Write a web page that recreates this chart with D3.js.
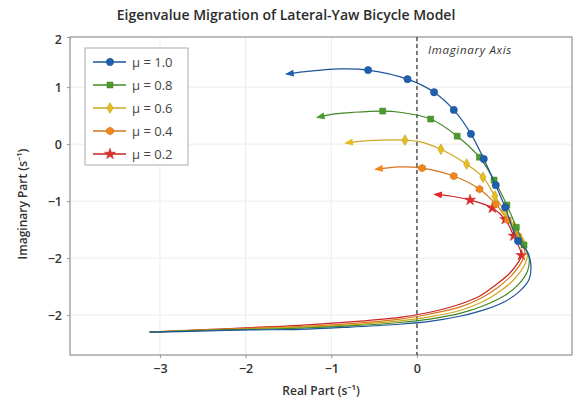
<!DOCTYPE html>
<html>
<head>
<meta charset="utf-8">
<script src="https://cdn.jsdelivr.net/npm/d3@7"></script>
<style>
  body { margin: 0; background: #fff; }
  svg { display: block; font-family: "Open Sans", "Noto Sans", sans-serif; }
</style>
</head>
<body>
<svg id="chart"></svg>
<script>
// Series labels / colours
const seriesLabels = ["\u03bc = 1.0", "\u03bc = 0.8", "\u03bc = 0.6", "\u03bc = 0.4", "\u03bc = 0.2"];
const seriesColors = ["#1f5fad", "#4b9a2c", "#e8bd22", "#f0861c", "#e22a2a"];

// Loci (real, imaginary); markers are indices into each path
const mu10Re = [-3.12, -2.54, -1.95, -1.37, -0.78, -0.20, 0.15, 0.50, 0.80, 1.03, 1.20, 1.31, 1.33, 1.29, 1.18, 1.03, 0.92, 0.78, 0.63, 0.43, 0.20, -0.11, -0.57, -0.90, -1.25, -1.52];
const mu10Im = [-3.30, -3.28, -3.26, -3.25, -3.21, -3.16, -3.11, -3.02, -2.90, -2.76, -2.58, -2.37, -2.12, -1.89, -1.70, -1.11, -0.72, -0.26, 0.18, 0.60, 0.91, 1.14, 1.30, 1.32, 1.28, 1.23];
const mu10Marks = [14, 15, 16, 17, 18, 19, 20, 21, 22];

const mu08Re = [-3.12, -2.54, -1.95, -1.37, -0.78, -0.20, 0.15, 0.50, 0.77, 1.01, 1.18, 1.29, 1.31, 1.25, 1.16, 1.05, 0.90, 0.73, 0.47, 0.16, -0.20, -0.40, -0.73, -0.96, -1.16];
const mu08Im = [-3.30, -3.27, -3.25, -3.23, -3.19, -3.13, -3.07, -2.97, -2.84, -2.67, -2.47, -2.23, -2.00, -1.77, -1.46, -1.07, -0.63, -0.23, 0.14, 0.44, 0.56, 0.58, 0.56, 0.53, 0.47];
const mu08Marks = [13, 14, 15, 16, 17, 18, 19, 21];

const mu06Re = [-3.12, -2.54, -1.95, -1.37, -0.78, -0.20, 0.15, 0.50, 0.76, 0.97, 1.13, 1.25, 1.29, 1.23, 1.13, 1.03, 0.91, 0.77, 0.58, 0.28, 0.04, -0.14, -0.43, -0.67, -0.83];
const mu06Im = [-3.30, -3.27, -3.24, -3.21, -3.17, -3.10, -3.03, -2.92, -2.77, -2.58, -2.38, -2.14, -1.93, -1.72, -1.44, -1.19, -0.91, -0.58, -0.35, -0.09, 0.04, 0.07, 0.07, 0.05, 0.02];
const mu06Marks = [13, 14, 15, 16, 17, 18, 19, 21];

const mu04Re = [-3.12, -2.54, -1.95, -1.37, -0.78, -0.20, 0.15, 0.50, 0.74, 0.94, 1.10, 1.22, 1.26, 1.18, 1.06, 0.92, 0.73, 0.43, 0.06, -0.20, -0.37, -0.48];
const mu04Im = [-3.30, -3.26, -3.23, -3.20, -3.15, -3.07, -2.98, -2.86, -2.71, -2.52, -2.31, -2.07, -1.89, -1.61, -1.33, -1.05, -0.79, -0.56, -0.42, -0.40, -0.42, -0.44];
const mu04Marks = [13, 14, 15, 16, 17, 18];

const mu02Re = [-3.12, -2.54, -1.95, -1.37, -0.78, -0.20, 0.15, 0.50, 0.74, 0.92, 1.08, 1.18, 1.22, 1.13, 1.03, 0.88, 0.62, 0.39, 0.21];
const mu02Im = [-3.30, -3.26, -3.22, -3.18, -3.12, -3.04, -2.95, -2.81, -2.66, -2.47, -2.27, -2.08, -1.95, -1.61, -1.32, -1.12, -0.98, -0.91, -0.88];
const mu02Marks = [12, 13, 14, 15, 16];

// Axis ticks
const xTickValues = [-3, -2, -1, 0];
const xTickLabels = ["\u22123", "\u22122", "\u22121", "0"];
const yTickValues = [1.88, 1, 0, -1, -2, -3];
const yTickLabels = ["2", "1", "0", "\u22121", "\u22122", "\u22122"];

const series = [
  { re: mu10Re, im: mu10Im, marks: mu10Marks, shape: d3.symbolCircle, size: 42 },
  { re: mu08Re, im: mu08Im, marks: mu08Marks, shape: d3.symbolSquare, size: 36 },
  { re: mu06Re, im: mu06Im, marks: mu06Marks, shape: d3.symbolDiamond, size: 34 },
  { re: mu04Re, im: mu04Im, marks: mu04Marks, shape: null, size: 40 },
  { re: mu02Re, im: mu02Im, marks: mu02Marks, shape: d3.symbolStar, size: 38 },
].map((s, i) => ({ ...s, label: seriesLabels[i], color: seriesColors[i] }));

// hexagon symbol for the 0.4 series
const symbolHexagon = {
  draw(ctx, size) {
    const r = Math.sqrt(size / 2.598);
    for (let k = 0; k < 6; k++) {
      const a = Math.PI / 6 + k * Math.PI / 3;
      const px = r * Math.cos(a), py = r * Math.sin(a);
      if (k === 0) ctx.moveTo(px, py); else ctx.lineTo(px, py);
    }
    ctx.closePath();
  }
};
series[3].shape = symbolHexagon;

const width = 575;
const height = 403;
const margin = { top: 37, right: 3, bottom: 48, left: 70 };
const innerWidth = width - margin.left - margin.right;
const innerHeight = height - margin.top - margin.bottom;

const svg = d3.select('#chart')
  .attr('width', width)
  .attr('height', height);

const x = d3.scaleLinear().domain([-4.05, 1.81]).range([0, innerWidth]);
const y = d3.scaleLinear().domain([-3.70, 1.88]).range([innerHeight, 0]);

// title
svg.append('text')
  .attr('x', 286)
  .attr('y', 20)
  .attr('text-anchor', 'middle')
  .attr('font-size', 14)
  .attr('font-weight', 600)
  .attr('fill', '#2b2b2b')
  .text('Eigenvalue Migration of Lateral-Yaw Bicycle Model');

const g = svg.append('g')
  .attr('transform', `translate(${margin.left}, ${margin.top})`);

// grid
g.append('g').selectAll('line')
  .data(xTickValues)
  .join('line')
  .attr('x1', d => x(d)).attr('x2', d => x(d))
  .attr('y1', 0).attr('y2', innerHeight)
  .attr('stroke', '#ececec');

g.append('g').selectAll('line')
  .data(yTickValues.slice(1))
  .join('line')
  .attr('x1', 0).attr('x2', innerWidth)
  .attr('y1', d => y(d)).attr('y2', d => y(d))
  .attr('stroke', '#ececec');

// axes
const xAxis = d3.axisBottom(x)
  .tickValues(xTickValues)
  .tickFormat((d, i) => xTickLabels[i])
  .tickSize(3)
  .tickPadding(6);

const yAxis = d3.axisLeft(y)
  .tickValues(yTickValues)
  .tickFormat((d, i) => yTickLabels[i])
  .tickSize(3)
  .tickPadding(5);

const gx = g.append('g')
  .attr('transform', `translate(0, ${innerHeight})`)
  .call(xAxis);
const gy = g.append('g').call(yAxis);

[gx, gy].forEach(a => {
  a.select('.domain').remove();
  a.selectAll('line').attr('stroke', '#999');
  a.selectAll('text')
    .attr('font-size', 12.5)
    .attr('font-weight', 600)
    .attr('fill', '#333')
    .attr('font-family', '"Open Sans", sans-serif');
});
gy.selectAll('.tick').filter((d, i) => i === 0).select('text').attr('dy', '0.5em');

// frame
g.append('rect')
  .attr('width', innerWidth)
  .attr('height', innerHeight)
  .attr('fill', 'none')
  .attr('stroke', '#8f8f8f')
  .attr('stroke-width', 1.2);

// imaginary axis
g.append('line')
  .attr('x1', x(0)).attr('x2', x(0))
  .attr('y1', 0).attr('y2', innerHeight)
  .attr('stroke', '#3a3a3a')
  .attr('stroke-width', 1.3)
  .attr('stroke-dasharray', '4,3');

g.append('text')
  .attr('x', x(0) + 11)
  .attr('y', 17)
  .attr('font-size', 11.5)
  .attr('letter-spacing', 0.7)
  .attr('font-style', 'italic')
  .attr('fill', '#333')
  .text('Imaginary Axis');

// arrowheads
const defs = svg.append('defs');
series.forEach((s, i) => {
  defs.append('marker')
    .attr('id', `arrow${i}`)
    .attr('viewBox', '0 0 10 8')
    .attr('refX', 8)
    .attr('refY', 4)
    .attr('markerUnits', 'userSpaceOnUse')
    .attr('markerWidth', 10)
    .attr('markerHeight', 7)
    .attr('orient', 'auto')
    .append('path')
    .attr('d', 'M0,0 L10,4 L0,8 Z')
    .attr('fill', s.color);
});

const line = d3.line()
  .x(d => x(d[0]))
  .y(d => y(d[1]))
  .curve(d3.curveCatmullRom.alpha(0.5));

// draw back to front so blue sits on top like the reference
series.slice().reverse().forEach(s => {
  const i = series.indexOf(s);
  const pts = s.re.map((r, k) => [r, s.im[k]]);
  g.append('path')
    .datum(pts)
    .attr('d', line)
    .attr('fill', 'none')
    .attr('stroke', d3.color(s.color).darker(0.35))
    .attr('stroke-width', 1.2)
    .attr('marker-end', `url(#arrow${i})`);

  g.append('g').selectAll('path')
    .data(s.marks.map(k => pts[k]))
    .join('path')
    .attr('transform', d => `translate(${x(d[0])}, ${y(d[1])})`)
    .attr('d', d3.symbol().type(s.shape).size(s.size))
    .attr('fill', s.color)
    .attr('stroke', d3.color(s.color).darker(0.6))
    .attr('stroke-width', 0.5);
});

// legend
const legend = svg.append('g').attr('transform', 'translate(85, 48)');
legend.append('rect')
  .attr('width', 103)
  .attr('height', 117)
  .attr('fill', '#fff')
  .attr('stroke', '#aaa');

series.forEach((s, i) => {
  const row = legend.append('g').attr('transform', `translate(0, ${14 + i * 23})`);
  row.append('line')
    .attr('x1', 8).attr('x2', 41)
    .attr('stroke', d3.color(s.color).darker(0.35))
    .attr('stroke-width', 1.3);
  row.append('path')
    .attr('transform', 'translate(25, 0)')
    .attr('d', d3.symbol().type(s.shape).size(s.size))
    .attr('fill', s.color)
    .attr('stroke', d3.color(s.color).darker(0.6))
    .attr('stroke-width', 0.5);
  row.append('text')
    .attr('x', 47)
    .attr('dy', '0.35em')
    .attr('font-size', 13)
    .attr('fill', '#444')
    .text(s.label);
});

// axis titles
svg.append('text')
  .attr('x', margin.left + innerWidth / 2)
  .attr('y', 395)
  .attr('text-anchor', 'middle')
  .attr('font-size', 12)
  .attr('font-weight', 600)
  .attr('fill', '#333')
  .text('Real Part (s\u207b\u00b9)');

svg.append('text')
  .attr('transform', `translate(27, ${margin.top + innerHeight / 2 + 8}) rotate(-90)`)
  .attr('text-anchor', 'middle')
  .attr('font-size', 12)
  .attr('font-weight', 600)
  .attr('fill', '#333')
  .text('Imaginary Part (s\u207b\u00b9)');
</script>
</body>
</html>
